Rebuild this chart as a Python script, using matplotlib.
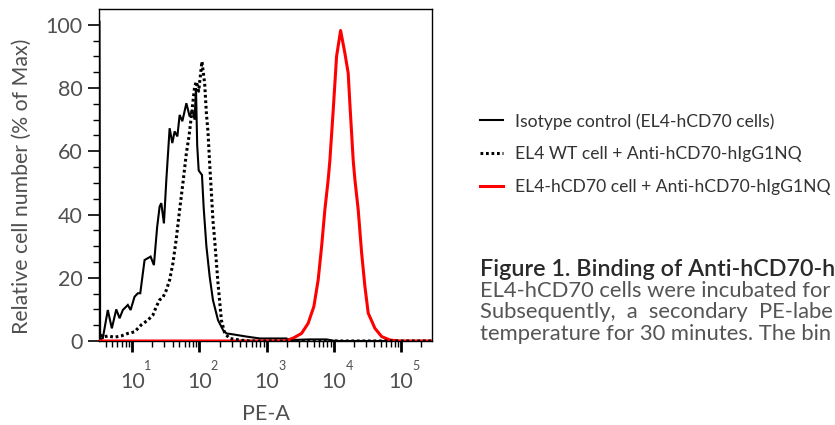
import numpy as np
import matplotlib
matplotlib.use("Agg")
import matplotlib.pyplot as plt
from matplotlib.ticker import LogLocator, NullFormatter, FixedLocator
import matplotlib.transforms as mtransforms

plt.rcParams['font.family'] = ['Lato', 'DejaVu Sans']

# ---- data (x as log10 of PE-A, y as % of max) ----
iso_log = [0.512, 0.522, 0.562, 0.636, 0.696, 0.762, 0.811, 0.860, 0.934, 0.975,
           1.034, 1.083, 1.119, 1.183, 1.232, 1.273, 1.322, 1.370, 1.407, 1.432,
           1.471, 1.507, 1.556, 1.596, 1.630, 1.671, 1.705, 1.745, 1.805, 1.854,
           1.894, 1.928, 1.948, 1.966, 1.988, 2.003, 2.037, 2.063, 2.103, 2.152,
           2.201, 2.276, 2.350, 2.401, 2.499, 2.699, 2.897, 3.295, 3.344, 3.642,
           3.891, 3.990, 4.090, 5.460]
iso_val = [101, 0.5, 0.9, 9.8, 4.0, 10.0, 7.2, 9.8, 11.4, 9.8,
           14.0, 15.1, 15.1, 25.6, 26.2, 26.7, 24.0, 36.0, 42.5, 43.6,
           37.2, 51.0, 67.3, 62.6, 66.3, 64.7, 71.5, 69.5, 75.2, 71.0,
           73.1, 70.0, 80.0, 62.0, 54.0, 53.5, 52.5, 42.0, 30.0, 20.3,
           12.9, 6.6, 3.5, 2.4, 2.1, 1.4, 0.8, 0.8, 0.3, 0.5,
           0.5, 0.1, 0.0, 0.0]

wt_log = [0.528, 0.562, 0.636, 0.736, 0.836, 0.934, 1.034, 1.134, 1.232, 1.307,
          1.358, 1.407, 1.456, 1.507, 1.556, 1.605, 1.656, 1.705, 1.754, 1.805,
          1.844, 1.879, 1.928, 1.954, 1.988, 2.037, 2.077, 2.103, 2.127, 2.152,
          2.177, 2.201, 2.226, 2.276, 2.326, 2.376, 2.450, 2.599, 2.748, 5.460]
wt_val = [2.0, 1.2, 1.6, 1.2, 1.6, 2.4, 2.9, 5.1, 6.6, 8.2,
          10.9, 13.0, 13.8, 16.1, 19.3, 24.6, 32.5, 41.5, 50.0, 59.4,
          64.7, 71.0, 80.5, 82.0, 79.0, 88.4, 81.5, 72.0, 66.0, 56.0,
          47.0, 38.0, 32.0, 18.2, 6.6, 2.4, 0.8, 0.3, 0.0, 0.0]

cd70_log = [0.505, 3.270, 3.393, 3.519, 3.617, 3.702, 3.766, 3.817, 3.866, 3.915,
            3.940, 3.990, 4.040, 4.100, 4.164, 4.213, 4.238, 4.288, 4.313, 4.362,
            4.413, 4.462, 4.511, 4.611, 4.711, 4.835, 4.980, 5.460]
cd70_val = [0.0, 0.0, 0.9, 2.4, 5.6, 10.9, 19.3, 29.8, 41.5, 51.0,
            57.0, 73.0, 90.0, 98.2, 91.0, 84.7, 75.0, 57.0, 51.0, 41.5,
            27.8, 17.2, 8.8, 4.0, 1.4, 0.3, 0.0, 0.0]

labels = ["Isotype control (EL4-hCD70 cells)",
          "EL4 WT cell + Anti-hCD70-hIgG1NQ",
          "EL4-hCD70 cell + Anti-hCD70-hIgG1NQ"]
y_ticks = [0, 20, 40, 60, 80, 100]
x_decades = [1, 2, 3, 4, 5]

caption_title = "Figure 1. Binding of Anti-hCD70-h"
caption_lines = ["EL4-hCD70 cells were incubated for",
                 "Subsequently,  a  secondary  PE-labe",
                 "temperature for 30 minutes. The bin"]

TXT = "#505050"

fig = plt.figure(figsize=(8.35, 4.25), dpi=100)
ax = fig.add_axes([99/835, 84/425, 333/835, 332/425])

ax.plot(np.power(10.0, iso_log), iso_val, color="black", lw=1.5, zorder=3,
        label=labels[0], solid_joinstyle="miter")
ax.plot(np.power(10.0, cd70_log), cd70_val, color="#ff0000", lw=2.2, zorder=4,
        label=labels[2])
ax.plot(np.power(10.0, wt_log), wt_val, color="black", lw=2.2, zorder=5,
        linestyle=(0, (0.9, 0.9)), label=labels[1])

ax.set_xscale("log")
ax.set_xlim(10**0.505, 10**5.46)
ax.set_ylim(0, 105)

ax.yaxis.set_major_locator(FixedLocator(y_ticks))
ax.yaxis.set_minor_locator(FixedLocator(np.arange(0, 101, 5)))
ax.xaxis.set_major_locator(FixedLocator([10.0**d for d in x_decades]))
ax.xaxis.set_minor_locator(LogLocator(base=10, subs=np.arange(2, 10), numticks=20))
ax.xaxis.set_major_formatter(NullFormatter())
ax.xaxis.set_minor_formatter(NullFormatter())

ax.tick_params(axis="y", which="major", length=8, width=1.2, direction="out",
               labelsize=15.5, labelcolor=TXT, pad=4)
ax.tick_params(axis="y", which="minor", length=4, width=1.0, direction="out")
ax.tick_params(axis="x", which="major", length=8, width=2.0, direction="out")
ax.tick_params(axis="x", which="minor", length=4, width=1.0, direction="out")

for sp in ax.spines.values():
    sp.set_linewidth(1.0)

trans = mtransforms.blended_transform_factory(ax.transData, fig.transFigure)
for d in x_decades:
    ax.text(10.0**d, 1 - 388/425, "10", transform=trans, ha="center", va="baseline",
            fontsize=15.5, color=TXT)
    ax.text(10.0**d * 10**0.17, 1 - 370/425, str(d), transform=trans, ha="left",
            va="baseline", fontsize=9, color=TXT)

fig.text(266/835, 1 - 414/425, "PE-A", ha="center", va="center", fontsize=15.5,
         color=TXT)
fig.text(22/835, 1 - 186/425, "Relative cell number (% of Max)", ha="center",
         va="center", rotation=90, fontsize=15.3, color=TXT)

# legend
handles, labs = ax.get_legend_handles_labels()
order = [0, 2, 1]
leg = fig.legend([handles[i] for i in order], [labs[i] for i in order],
                 loc="upper left", bbox_to_anchor=(480/835, 1 - 113/425),
                 frameon=False, fontsize=12.6, handlelength=1.3, handletextpad=0.7,
                 labelspacing=0.95, borderaxespad=0, borderpad=0)
for t in leg.get_texts():
    t.set_color("#333333")

fig.text(480/835, 1 - 270/425, caption_title, ha="left", va="center",
         fontsize=16.8, color="#2a2a2a", fontweight="semibold")
for i, line in enumerate(caption_lines):
    fig.text(480/835, 1 - (291 + 21.3*i)/425, line, ha="left", va="center",
             fontsize=15.8, color="#555555")

fig.savefig("out.png", dpi=100)
